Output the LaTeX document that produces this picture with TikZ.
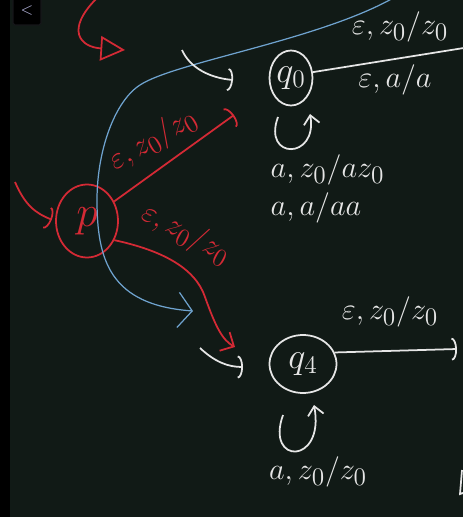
\documentclass[tikz,border=0pt]{standalone}
\usepackage{amsmath}
\usetikzlibrary{positioning,shapes.geometric,arrows.meta}
\definecolor{board}{HTML}{111A16}
\definecolor{inkred}{HTML}{D42A35}
\definecolor{inkblue}{HTML}{6FA3CF}
\definecolor{inkwhite}{HTML}{E6E6E6}
\definecolor{btngrey}{HTML}{B4B4DC}

\begin{document}
\begin{tikzpicture}[x=0.02cm,y=-0.02cm,line width=1pt,
  state/.style={draw,ellipse,inner sep=0pt},
  lbl/.style={font=\fontsize{19}{22}\selectfont},
  barb/.style={-{Arc Barb[length=3pt,width=13pt]}},
  vbarb/.style={-{Straight Barb[length=5pt,width=9pt]}}]
\useasboundingbox (0,0) rectangle (463,517);
\fill[board] (0,0) rectangle (463,517);
\fill[black] (0,0) rectangle (10,517);
\node[draw=btngrey!12!black,line width=0.6pt,fill=black,rounded corners=1pt,minimum width=0.56cm,minimum height=0.56cm,
  text=btngrey,font=\sffamily\small] (back) at (27,11) {$<$};

% states
\node[state,inkwhite,minimum width=0.86cm,minimum height=1.1cm,font=\fontsize{22}{24}\selectfont] (q0) at (291,78) {$q_0$};
\node[state,inkred,minimum width=1.24cm,minimum height=1.46cm,font=\fontsize{26}{28}\selectfont] (p) at (87,221) {$p$};
\node[state,inkwhite,minimum width=1.34cm,minimum height=1.16cm,font=\fontsize{22}{24}\selectfont] (q4) at (303,364) {$q_4$};

% free ends
\coordinate (rtl) at (97,-2);
\coordinate (rtlend) at (125,50);
\coordinate (w0s) at (182,50);
\coordinate (w0e) at (233,80);
\coordinate (q0out) at (470,47);
\coordinate (l0a) at (278,117);
\coordinate (l0b) at (310,114);
\coordinate (pin) at (15,182);
\coordinate (rq0) at (234,115);
\coordinate (rq4) at (235,347);
\coordinate (bs) at (395,-3);
\coordinate (bm) at (140,85);
\coordinate (bn) at (97,200);
\coordinate (be) at (193,311);
\coordinate (w4s) at (200,348);
\coordinate (w4e) at (243,367);
\coordinate (q4out) at (457,349);
\coordinate (l4a) at (283,415);
\coordinate (l4b) at (314,405);

% red arrows
\draw[inkred,-{Triangle[open,length=14pt,width=14pt]}] (rtl) .. controls (65,30) and (80,47) .. (rtlend);
\draw[inkred,barb,shorten >=2pt] (pin) .. controls (25,205) and (35,213) .. (p.west);
\draw[inkred,barb] (p) -- (rq0);
\draw[inkred,-{Straight Barb[length=6pt,width=12pt]}] (p.-35) .. controls (160,250) and (195,267) .. (205,297)
  .. controls (215,325) and (222,340) .. (rq4);

% blue curve
\draw[inkblue,line width=0.7pt,-{Straight Barb[length=8pt,width=20pt]}] (bs) .. controls (320,40) and (175,62) .. (bm)
  .. controls (115,101) and (97,150) .. (bn) .. controls (97,260) and (110,305) .. (be);

% white arrows
\draw[inkwhite,barb] (w0s) .. controls (190,68) and (210,78) .. (w0e);
\draw[inkwhite] (q0.15) -- (q0out);
\draw[inkwhite,vbarb] (l0a) .. controls (262,160) and (318,160) .. (l0b);
\draw[inkwhite,barb] (w4s) .. controls (215,362) and (228,367) .. (w4e);
\draw[inkwhite,barb] (q4.20) -- (q4out);
\draw[inkwhite,vbarb] (l4a) .. controls (265,465) and (325,465) .. (l4b);
\draw[inkwhite] (462,470) -- (460,494) -- (463,493);

% labels
\node[lbl,text=inkwhite] (tA) at (400,27) {$\varepsilon, z_0/z_0$};
\node[lbl,text=inkwhite] (tB) at (395,80) {$\varepsilon, a/a$};
\node[lbl,text=inkwhite,anchor=west] (tC) at (264,170) {$a, z_0/az_0$};
\node[lbl,text=inkwhite,anchor=west] (tD) at (264,208) {$a, a/aa$};
\node[lbl,text=inkred,rotate=30] (tE) at (153,140) {$\varepsilon, z_0/z_0$};
\node[lbl,text=inkred,rotate=-28] (tF) at (186,234) {$\varepsilon, z_0/z_0$};
\node[lbl,text=inkwhite] (tG) at (390,312) {$\varepsilon, z_0/z_0$};
\node[lbl,text=inkwhite] (tH) at (318,472) {$a, z_0/z_0$};
\end{tikzpicture}
\end{document}
